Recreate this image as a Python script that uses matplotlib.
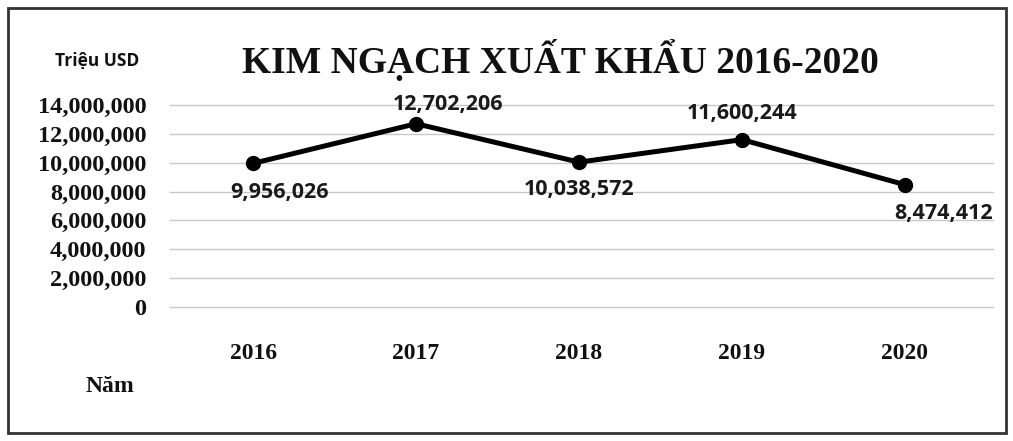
import matplotlib
matplotlib.use("Agg")
import matplotlib.pyplot as plt
from matplotlib.patches import Rectangle
from matplotlib.ticker import FuncFormatter

years = ["2016", "2017", "2018", "2019", "2020"]
values = [9956026, 12702206, 10038572, 11600244, 8474412]
label_offsets = [(19, -21), (23, 14), (0, -20), (0, 19), (28, -21)]
yticks = [0, 2000000, 4000000, 6000000, 8000000, 10000000, 12000000, 14000000]

fig = plt.figure(figsize=(10.13, 4.41), dpi=100)
ax = fig.add_axes([170/1013, 1-307/441, (993-170)/1013, (307-105)/441])

x = list(range(len(years)))
ax.plot(x, values, color="black", lw=3.6, marker="o", ms=10, zorder=3)
for xi, v, off in zip(x, values, label_offsets):
    ax.annotate(f"{v:,}", (xi, v), xytext=off, textcoords="offset points",
                ha="center", va="center", fontsize=15.5, fontweight="bold",
                family="Open Sans", color="#1a1a1a")

ax.set_xlim(-0.51, 4.54)
ax.set_ylim(0, 14000000)
ax.set_yticks(yticks)
ax.yaxis.set_major_formatter(FuncFormatter(lambda v, p: f"{int(v):,}"))
ax.set_xticks(x)
ax.set_xticklabels(years)
ax.grid(axis="y", color="#c8c8c8", lw=1)
for gl in ax.get_ygridlines():
    gl.set_clip_on(False)
ax.set_axisbelow(True)
for s in ax.spines.values():
    s.set_visible(False)
ax.tick_params(length=0)
ax.tick_params(axis="y", pad=17)
ax.tick_params(axis="x", pad=26)
for t in ax.get_yticklabels():
    t.set_fontfamily("Liberation Serif"); t.set_fontweight("bold"); t.set_fontsize(17.5)
    t.set_color("#111111")
for t in ax.get_xticklabels():
    t.set_fontfamily("Liberation Serif"); t.set_fontweight("bold"); t.set_fontsize(17)
    t.set_color("#111111")

fig.text(560/1013, 1-60/441, "KIM NGẠCH XUẤT KHẨU 2016-2020", ha="center", va="center",
         fontsize=27, fontweight="bold", family="Liberation Serif", color="#111111")
fig.text(97/1013, 1-61/441, "Triệu USD", ha="center", va="center",
         fontsize=12.5, fontweight="bold", family="Open Sans", color="#111111")
fig.text(110/1013, 1-386/441, "Năm", ha="center", va="center",
         fontsize=17, fontweight="bold", family="Liberation Serif", color="#111111")

fig.patches.append(Rectangle((8/1013, 1-433/441), (1006-8)/1013, (433-8)/441,
                             transform=fig.transFigure, fill=False,
                             edgecolor="#333333", lw=2))
fig.savefig("out.png", dpi=100)
